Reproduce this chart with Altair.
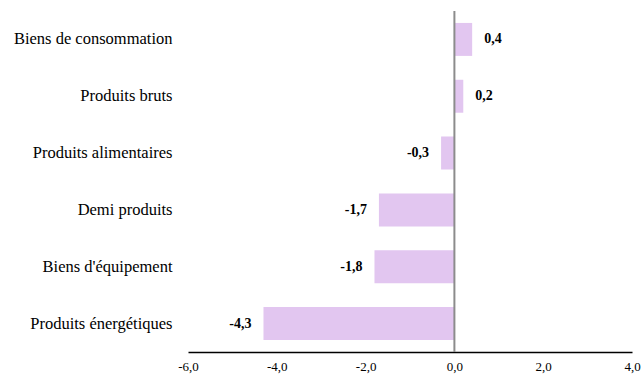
import altair as alt
import pandas as pd

categories = ["Biens de consommation", "Produits bruts", "Produits alimentaires",
              "Demi produits", "Biens d'équipement", "Produits énergétiques"]
values = [0.4, 0.2, -0.3, -1.7, -1.8, -4.3]
labels = ["0,4", "0,2", "-0,3", "-1,7", "-1,8", "-4,3"]
tick_values = [-6, -4, -2, 0, 2, 4]

df = pd.DataFrame({"cat": categories, "val": values, "lab": labels})
FONT = "Liberation Serif"

y = alt.Y("cat:N", sort=categories, title=None,
          scale=alt.Scale(paddingInner=0.42, paddingOuter=0.21),
          axis=alt.Axis(domain=False, ticks=False, labelFont=FONT, labelFontSize=16.5,
                        labelColor="#000", labelPadding=16, labelLimit=300))
x = alt.X("val:Q", title=None,
          scale=alt.Scale(domain=[-6, 4], nice=False),
          axis=alt.Axis(values=tick_values,
                        labelExpr="replace(replace(format(datum.value, '.1f'), '.', ','), '\u2212', '-')",
                        grid=False, ticks=False, domainColor="#000", domainWidth=1.5,
                        labelFont=FONT, labelFontSize=13, labelColor="#000", labelPadding=8,
                        labelFlush=False))

bars = alt.Chart(df).mark_bar(color="#e2c6f0").encode(x=x, x2=alt.datum(0), y=y)

pos = alt.Chart(df).transform_filter("datum.val >= 0").mark_text(
    align="left", dx=12, font=FONT, fontSize=14, fontWeight="bold", color="#000"
).encode(x="val:Q", y=alt.Y("cat:N", sort=categories), text="lab:N")
neg = alt.Chart(df).transform_filter("datum.val < 0").mark_text(
    align="right", dx=-12, font=FONT, fontSize=14, fontWeight="bold", color="#000"
).encode(x="val:Q", y=alt.Y("cat:N", sort=categories), text="lab:N")

zero = alt.Chart(pd.DataFrame({"z": [0]})).mark_rule(color="#8c8c8c", strokeWidth=2).encode(x="z:Q")

chart = alt.layer(bars, zero, pos, neg).properties(
    width=444, height=341,
    padding={"left": 188, "top": 11, "right": 9, "bottom": 28},
    autosize="none",
    background="white",
).configure_view(strokeWidth=0, stroke=None)

chart.save("out.html", embed_options={"renderer": "svg", "actions": False})
